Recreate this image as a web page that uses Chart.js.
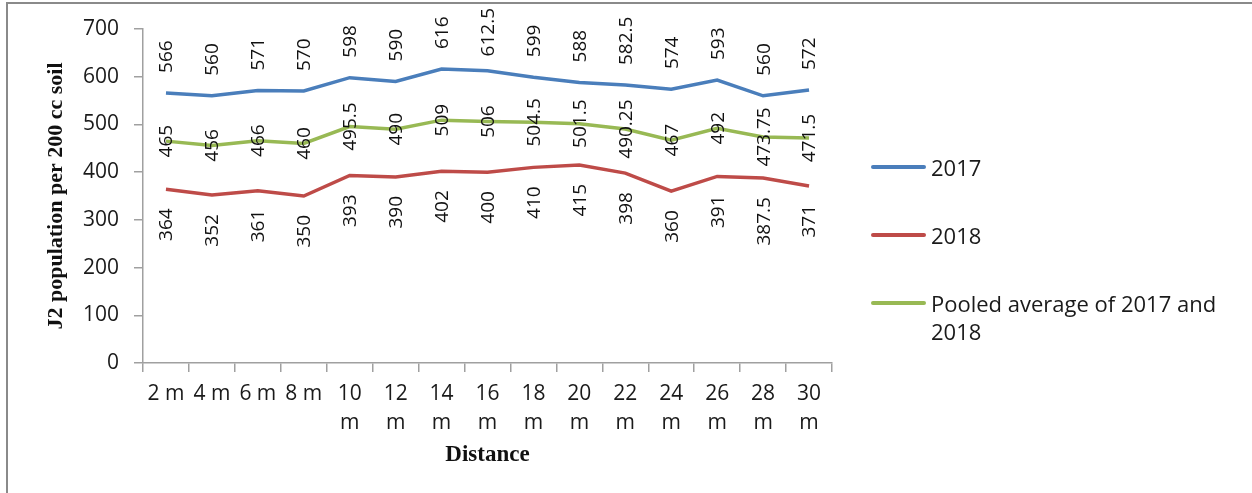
<!DOCTYPE html>
<html>
<head>
<meta charset="utf-8">
<title>J2 population by distance</title>
<script src="https://cdn.jsdelivr.net/npm/chart.js@4"></script>
<style>
  html, body { margin: 0; padding: 0; background: #fff; }
  body { width: 1252px; height: 493px; position: relative; overflow: hidden; }
  #frame {
    position: absolute; left: 6px; top: 2px; width: 1300px; height: 600px;
    border-top: 2px solid #8a8a8a; border-left: 2px solid #8a8a8a;
    pointer-events: none;
  }
  #chart { position: absolute; left: 0; top: 0; }
  #legend {
    position: absolute; left: 871px; top: 153px; width: 360px;
    font-family: "Open Sans", sans-serif; font-size: 22px; line-height: 28px; color: #1a1a1a;
  }
  .item { display: flex; align-items: flex-start; margin-bottom: 40px; }
  .swatch { width: 55px; height: 4px; border-radius: 2px; margin-top: 12px; flex: none; }
  .text { margin-left: 5px; width: 300px; }
</style>
</head>
<body>
<div id="frame"></div>
<canvas id="chart" width="1252" height="493"></canvas>
<div id="legend"></div>
<script>
// Sampling distances (multi-line where the label wraps under the tick)
const distances = ['2 m', '4 m', '6 m', '8 m', ['10', 'm'], ['12', 'm'], ['14', 'm'], ['16', 'm'],
                   ['18', 'm'], ['20', 'm'], ['22', 'm'], ['24', 'm'], ['26', 'm'], ['28', 'm'], ['30', 'm']];

// J2 counts per 200 cc soil
const pop2017 = [566, 560, 571, 570, 598, 590, 616, 612.5, 599, 588, 582.5, 574, 593, 560, 572];
const pop2018 = [364, 352, 361, 350, 393, 390, 402, 400, 410, 415, 398, 360, 391, 387.5, 371];
const pooled  = [465, 456, 466, 460, 495.5, 490, 509, 506, 504.5, 501.5, 490.25, 467, 492, 473.75, 471.5];

const seriesNames = ['2017', '2018', 'Pooled average of 2017 and 2018'];
const seriesColors = ['#4a7ebb', '#be4b48', '#98b954'];
const labelPlacement = ['above', 'below', 'center'];

const yTicks = { min: 0, max: 700, step: 100 };

// Vertical value labels next to each point, kept inside the canvas top
const valueLabels = {
  id: 'valueLabels',
  afterDatasetsDraw(chart) {
    const ctx = chart.ctx;
    const topLimit = 8;
    ctx.save();
    ctx.font = '19px "Open Sans", sans-serif';
    ctx.fillStyle = '#111';
    ctx.textBaseline = 'middle';
    chart.data.datasets.forEach((ds, di) => {
      const meta = chart.getDatasetMeta(di);
      const where = labelPlacement[di];
      meta.data.forEach((pt, i) => {
        const text = String(ds.data[i]);
        const w = ctx.measureText(text).width;
        ctx.save();
        if (where === 'above') {
          const base = Math.max(pt.y - 20, topLimit + w);
          ctx.translate(pt.x + 1, base);
          ctx.textAlign = 'left';
        } else if (where === 'below') {
          ctx.translate(pt.x + 1, pt.y + 19);
          ctx.textAlign = 'right';
        } else {
          ctx.translate(pt.x + 1, pt.y);
          ctx.textAlign = 'center';
        }
        ctx.rotate(-Math.PI / 2);
        ctx.fillText(text, 0, 0);
        ctx.restore();
      });
    });
    ctx.restore();
  }
};

const datasets = [pop2017, pop2018, pooled].map((values, i) => ({
  label: seriesNames[i],
  data: values,
  borderColor: seriesColors[i],
  backgroundColor: seriesColors[i],
  borderWidth: 3.5,
  pointRadius: 0,
  tension: 0,
  fill: false
}));

const axisColor = '#a0a0a0';

const chart = new Chart(document.getElementById('chart'), {
  type: 'line',
  data: { labels: distances, datasets },
  options: {
    responsive: false,
    animation: false,
    layout: { padding: { top: 29, right: 420, bottom: 0, left: 0 } },
    plugins: {
      legend: { display: false },
      tooltip: { enabled: false }
    },
    scales: {
      x: {
        offset: true,
        afterFit(scale) { scale.height = 130; },
        grid: {
          display: true, drawOnChartArea: false, drawTicks: true, offset: true,
          tickLength: 9, color: axisColor, lineWidth: 1.5
        },
        border: { display: true, color: axisColor, width: 1.5 },
        ticks: {
          autoSkip: false, maxRotation: 0, minRotation: 0, padding: 8,
          color: '#1a1a1a',
          font: { family: '"Open Sans", sans-serif', size: 21, lineHeight: 1.35 }
        },
        title: {
          display: true, text: 'Distance', color: '#111',
          font: { family: '"Liberation Serif", serif', size: 23, weight: 'bold' },
          padding: { top: 0, bottom: 24 }
        }
      },
      y: {
        min: yTicks.min, max: yTicks.max,
        afterFit(scale) { scale.width = 143; },
        grid: {
          display: true, drawOnChartArea: false, drawTicks: true,
          tickLength: 9, color: axisColor, lineWidth: 1.5
        },
        border: { display: true, color: axisColor, width: 1.5 },
        ticks: {
          stepSize: yTicks.step, padding: 15, color: '#1a1a1a',
          font: { family: '"Open Sans", sans-serif', size: 21 }
        },
        title: {
          display: true, text: 'J2 population per 200 cc soil', color: '#111',
          font: { family: '"Liberation Serif", serif', size: 22, weight: 'bold' },
          padding: { top: 43, bottom: 0 }
        }
      }
    }
  },
  plugins: [valueLabels]
});

// Legend built from the chart's own datasets
const legend = document.getElementById('legend');
chart.data.datasets.forEach(ds => {
  const item = document.createElement('div');
  item.className = 'item';
  const sw = document.createElement('div');
  sw.className = 'swatch';
  sw.style.background = ds.borderColor;
  const tx = document.createElement('div');
  tx.className = 'text';
  tx.textContent = ds.label;
  item.appendChild(sw);
  item.appendChild(tx);
  legend.appendChild(item);
});
</script>
</body>
</html>
